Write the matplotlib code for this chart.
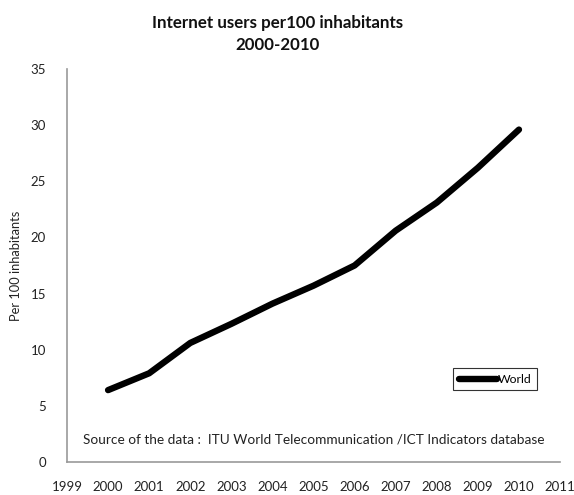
import matplotlib
matplotlib.use("Agg")
import matplotlib.pyplot as plt

plt.rcParams['font.family'] = ['Lato', 'DejaVu Sans']

years = [2000, 2001, 2002, 2003, 2004, 2005, 2006, 2007, 2008, 2009, 2010]
users_per_100 = [6.4, 7.9, 10.6, 12.3, 14.1, 15.7, 17.5, 20.6, 23.1, 26.2, 29.6]
x_tick_years = list(range(1999, 2012))
y_ticks = [0, 5, 10, 15, 20, 25, 30, 35]

fig = plt.figure(figsize=(5.74, 4.95), dpi=100)
ax = fig.add_axes([0.1167, 0.0667, 0.859, 0.794])

ax.plot(years, users_per_100, color='black', linewidth=4.6,
        solid_joinstyle='round', solid_capstyle='round', label='World')

ax.set_xlim(1999, 2011)
ax.set_ylim(0, 35)
ax.set_xticks(x_tick_years)
ax.set_xticklabels([str(y) for y in x_tick_years], fontsize=9.5, color='#222222')
ax.set_yticks(y_ticks)
ax.set_yticklabels([str(v) for v in y_ticks], fontsize=9.5, color='#222222')
ax.tick_params(axis='x', length=0, pad=14)
ax.tick_params(axis='y', length=0, pad=15)

for side in ['top', 'right']:
    ax.spines[side].set_visible(False)
for side in ['left', 'bottom']:
    ax.spines[side].set_color('#999999')
    ax.spines[side].set_linewidth(1.2)

ax.set_ylabel('Per 100 inhabitants', fontsize=9.3, color='#222222', labelpad=6)

fig.text(0.483, 0.953, 'Internet users per100 inhabitants', ha='center', va='center',
         fontsize=12.2, fontweight='bold', color='#111111')
fig.text(0.483, 0.909, '2000-2010', ha='center', va='center',
         fontsize=12.2, fontweight='bold', color='#111111')

ax.text(0.5, 0.056, 'Source of the data :  ITU World Telecommunication /ICT Indicators database',
        transform=ax.transAxes, ha='center', va='center', fontsize=9.8, color='#222222')

leg = ax.legend(loc='center', bbox_to_anchor=(0.868, 0.21), fontsize=8.8,
                frameon=True, fancybox=False, handlelength=3.1, handletextpad=0.05,
                borderpad=0.45, borderaxespad=0)
leg.get_frame().set_edgecolor('black')
leg.get_frame().set_linewidth(0.8)

fig.savefig('out.png', dpi=100)
